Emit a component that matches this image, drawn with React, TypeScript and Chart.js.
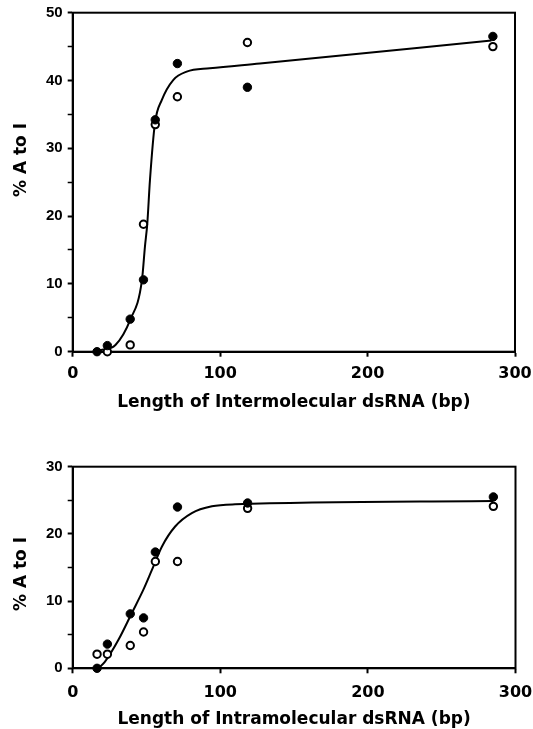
import React, { useEffect, useRef } from "react";
import { Chart, registerables } from "chart.js";

Chart.register(...registerables);

// dsRNA lengths (bp) shared by both panels
const lengths = [16.5, 23.5, 39, 48, 56, 71, 118.5, 285];

// Top panel: intermolecular dsRNA
const interFilled = [0, 0.9, 4.8, 10.6, 34.2, 42.5, 39.0, 46.5];
const interOpen = [null, 0, 1.0, 18.8, 33.5, 37.6, 45.6, 45.0];
const interCurveX = [18.5, 29, 39, 47, 49, 50.6, 52.4, 55.8, 60.4, 68.3, 77.3, 93, 127, 284];
const interCurveY = [0.2, 1.0, 4.7, 10.6, 15.5, 18.9, 25.3, 33.7, 37.1, 40.1, 41.3, 41.8, 42.5, 45.9];

// Bottom panel: intramolecular dsRNA
const intraFilled = [0, 3.6, 8.1, 7.5, 17.3, 24.0, 24.6, 25.5];
const intraOpen = [2.1, 2.1, 3.4, 5.4, 15.9, 15.9, 23.8, 24.1];
const intraCurveX = [17.4, 21.9, 30.9, 40, 47.9, 53.6, 60.4, 69.4, 80.7, 94.3, 110, 285];
const intraCurveY = [0, 1.0, 4.2, 8.2, 11.7, 14.6, 18.1, 21.1, 23.1, 24.1, 24.4, 24.9];

const xTicks = [0, 100, 200, 300];
const yTitle = "% A to I";
const topXTitle = "Length of Intermolecular dsRNA (bp)";
const bottomXTitle = "Length of Intramolecular dsRNA (bp)";

const pts = (xs: number[], ys: (number | null)[]) =>
  xs.map((x, i) => ({ x, y: ys[i] })).filter((p) => p.y !== null);

const framePlugin = {
  id: "frame",
  beforeDatasetsDraw(chart: any) {
    const { ctx, chartArea: a } = chart;
    ctx.save();
    ctx.strokeStyle = "#000";
    ctx.lineWidth = 2;
    ctx.strokeRect(a.left, a.top, a.right - a.left, a.bottom - a.top);
    ctx.restore();
  },
  afterDraw(chart: any, _args: any, opts: any) {
    const { ctx } = chart;
    ctx.save();
    ctx.translate(opts.titleX, opts.titleY);
    ctx.rotate(-Math.PI / 2);
    ctx.font = "bold 17px 'DejaVu Sans'";
    ctx.fillStyle = "#000";
    ctx.textAlign = "center";
    ctx.textBaseline = "middle";
    ctx.fillText(opts.text, 0, 0);
    ctx.restore();
  },
};

type Panel = {
  filled: (number | null)[];
  open: (number | null)[];
  curveX: number[];
  curveY: number[];
  yMax: number;
  xTitle: string;
  padTop: number;
  padRight: number;
  yWidth: number;
  xHeight: number;
  xTitlePad: number;
  xTickPad: number;
  yTitleY: number;
};

function makeConfig(p: Panel): any {
  return {
    type: "scatter",
    data: {
      datasets: [
        {
          data: pts(lengths, p.filled),
          pointRadius: 4.2,
          pointBorderWidth: 1,
          pointBackgroundColor: "#000",
          pointBorderColor: "#000",
          showLine: false,
          clip: false,
          order: 1,
        },
        {
          data: pts(lengths, p.open),
          pointRadius: 3.7,
          pointBorderWidth: 2,
          pointBackgroundColor: "#fff",
          pointBorderColor: "#000",
          showLine: false,
          clip: false,
          order: 2,
        },
        {
          data: pts(p.curveX, p.curveY),
          showLine: true,
          pointRadius: 0,
          borderColor: "#000",
          borderWidth: 2,
          cubicInterpolationMode: "monotone",
          clip: false,
          order: 3,
        },
      ],
    },
    options: {
      responsive: false,
      animation: false,
      devicePixelRatio: 1,
      layout: { padding: { left: 0, right: p.padRight, top: p.padTop, bottom: 0 } },
      plugins: {
        legend: { display: false },
        tooltip: { enabled: false },
        frame: { text: yTitle, titleX: 21.5, titleY: p.yTitleY },
      },
      scales: {
        x: {
          type: "linear",
          min: 0,
          max: 300,
          afterBuildTicks: (s: any) => {
            s.ticks = xTicks.map((v) => ({ value: v }));
          },
          afterFit: (s: any) => {
            s.height = p.xHeight;
            s.paddingLeft = 0;
            s.paddingRight = 0;
          },
          border: { display: true, color: "#000", width: 2 },
          grid: { drawOnChartArea: false, drawTicks: true, tickLength: 5, tickColor: "#000", tickWidth: 2 },
          ticks: {
            color: "#000",
            padding: p.xTickPad,
            maxRotation: 0,
            font: { family: "'DejaVu Sans'", weight: "bold", size: 16 },
          },
          title: {
            display: true,
            text: p.xTitle,
            color: "#000",
            font: { family: "'DejaVu Sans'", weight: "bold", size: 17, lineHeight: 1 },
            padding: { top: 0, bottom: p.xTitlePad },
          },
        },
        y: {
          type: "linear",
          min: 0,
          max: p.yMax,
          ticks: {
            stepSize: 5,
            color: "#000",
            padding: 5,
            font: { family: "'Liberation Sans'", weight: "bold", size: 15 },
            callback: (v: number) => (v % 10 === 0 ? String(v) : ""),
          },
          afterFit: (s: any) => {
            s.width = p.yWidth;
            s.paddingTop = 0;
            s.paddingBottom = 0;
          },
          border: { display: true, color: "#000", width: 2 },
          grid: {
            drawOnChartArea: false,
            drawTicks: true,
            tickLength: 5,
            tickColor: "#000",
            tickWidth: (c: any) => (c.tick && c.tick.value % 10 === 0 ? 2 : 1.5),
          },
        },
      },
    },
    plugins: [framePlugin],
  };
}

function PlotCanvas({ panel, width, height, top }: { panel: Panel; width: number; height: number; top: number }) {
  const ref = useRef<HTMLCanvasElement | null>(null);
  useEffect(() => {
    if (!ref.current) return;
    const chart = new Chart(ref.current, makeConfig(panel));
    return () => chart.destroy();
  }, []);
  return (
    <canvas
      ref={ref}
      width={width}
      height={height}
      style={{ position: "absolute", left: 0, top, width, height }}
    />
  );
}

const topPanel: Panel = {
  filled: interFilled,
  open: interOpen,
  curveX: interCurveX,
  curveY: interCurveY,
  yMax: 50,
  xTitle: topXTitle,
  padTop: 12.7,
  padRight: 18,
  yWidth: 72.7,
  xHeight: 420 - 351.7,
  xTitlePad: 9,
  xTickPad: 8,
  yTitleY: 160,
};

const bottomPanel: Panel = {
  filled: intraFilled,
  open: intraOpen,
  curveX: intraCurveX,
  curveY: intraCurveY,
  yMax: 30,
  xTitle: bottomXTitle,
  padTop: 46.7,
  padRight: 17.5,
  yWidth: 72.7,
  xHeight: 309 - 248.3,
  xTitlePad: 0.5,
  xTickPad: 10,
  yTitleY: 154,
};

export default function App() {
  return (
    <div
      style={{
        position: "absolute",
        left: 0,
        top: 0,
        width: 533,
        height: 729,
        overflow: "hidden",
        background: "#fff",
      }}
    >
      <PlotCanvas panel={topPanel} width={533} height={420} top={0} />
      <PlotCanvas panel={bottomPanel} width={533} height={309} top={420} />
    </div>
  );
}
